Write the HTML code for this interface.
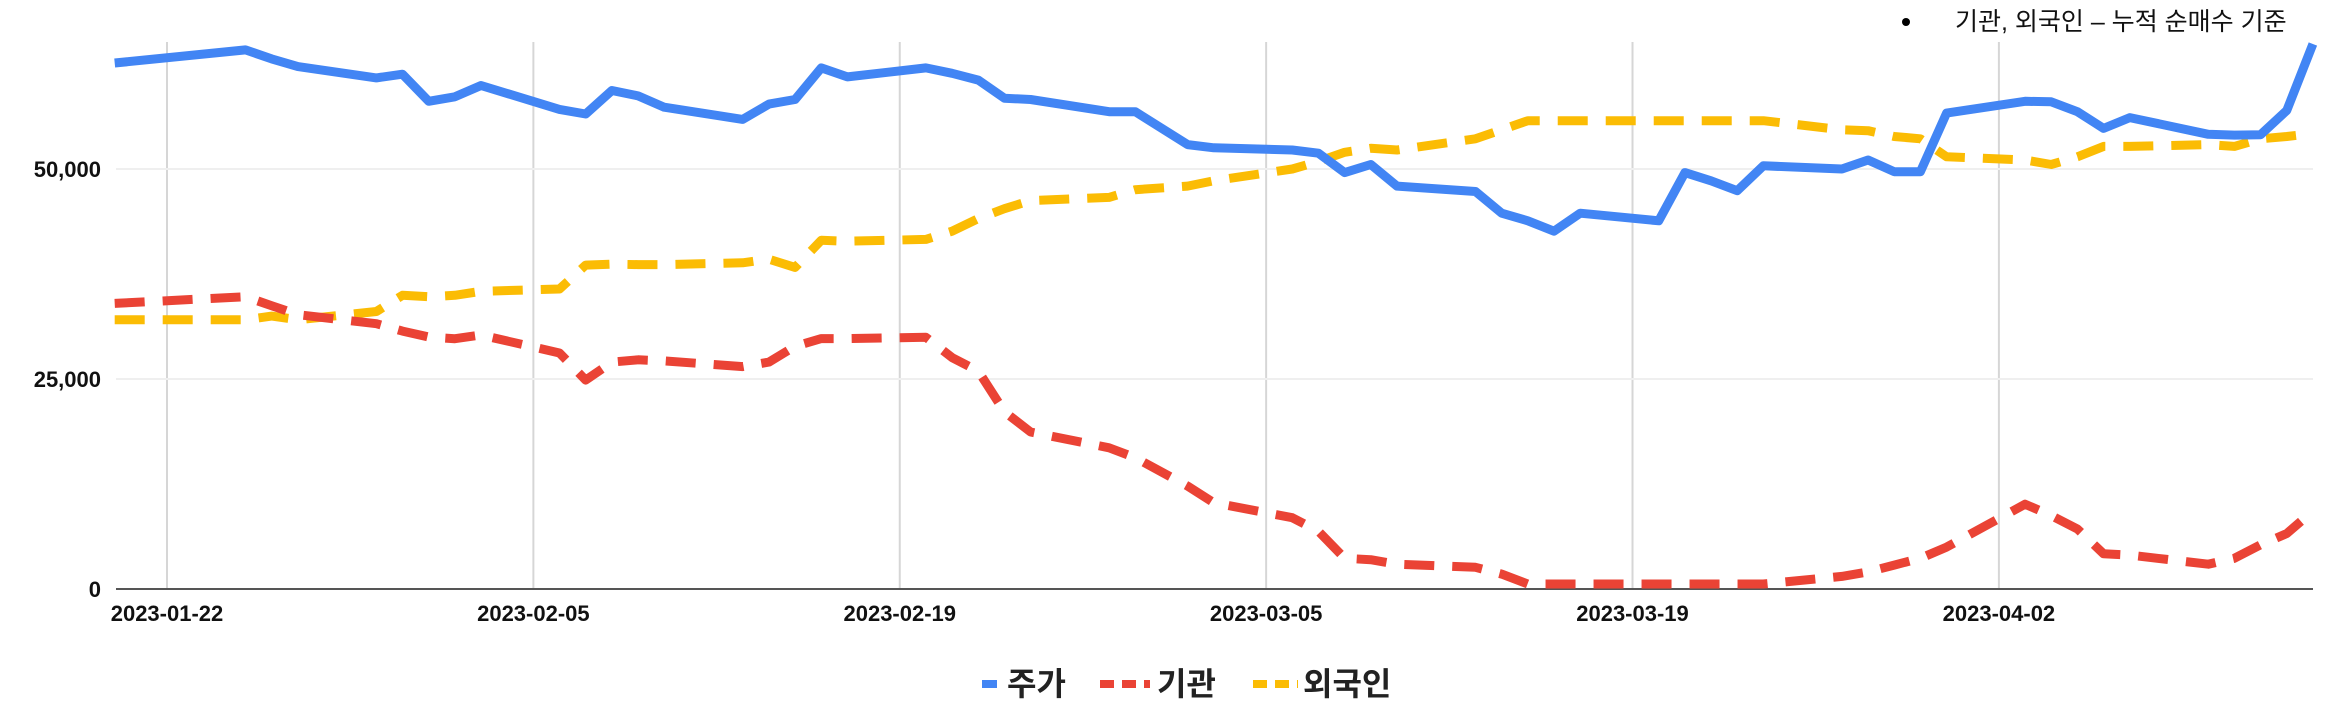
<!DOCTYPE html>
<html><head><meta charset="utf-8"><style>
html,body{margin:0;padding:0;background:#fff;}
svg{display:block;font-family:"Liberation Sans","Noto Sans CJK KR",sans-serif;}
</style></head><body>
<svg id="chart" width="2339" height="710" viewBox="0 0 2339 710" xmlns="http://www.w3.org/2000/svg">
<g id="grid"></g>
<g id="axes"></g>
<g id="series"></g>
<g>
<circle cx="1906" cy="22" r="4" fill="#000"/>
<text x="1955" y="30" font-size="25" fill="#111">기관, 외국인 – 누적 순매수 기준</text>
</g>
<g>
<g>
<line x1="982" y1="684" x2="997" y2="684" stroke="#4285f4" stroke-width="8"/>
<text x="1007" y="695" font-size="32" font-weight="bold" fill="#222">주가</text></g>
<g>
<line x1="1100" y1="684" x2="1150" y2="684" stroke="#ea4335" stroke-width="8" stroke-dasharray="14,8"/>
<text x="1157" y="695" font-size="32" font-weight="bold" fill="#222">기관</text></g>
<g>
<line x1="1253" y1="684" x2="1298" y2="684" stroke="#fbbc04" stroke-width="8" stroke-dasharray="14,8"/>
<text x="1303" y="695" font-size="32" font-weight="bold" fill="#222">외국인</text></g>
</g>
</svg>
<script>
const dates=["2023-01-20","2023-01-25","2023-01-26","2023-01-27","2023-01-30","2023-01-31","2023-02-01","2023-02-02","2023-02-03","2023-02-06","2023-02-07","2023-02-08","2023-02-09","2023-02-10","2023-02-13","2023-02-14","2023-02-15","2023-02-16","2023-02-17","2023-02-20","2023-02-21","2023-02-22","2023-02-23","2023-02-24","2023-02-27","2023-02-28","2023-03-02","2023-03-03","2023-03-06","2023-03-07","2023-03-08","2023-03-09","2023-03-10","2023-03-13","2023-03-14","2023-03-15","2023-03-16","2023-03-17","2023-03-20","2023-03-21","2023-03-22","2023-03-23","2023-03-24","2023-03-27","2023-03-28","2023-03-29","2023-03-30","2023-03-31","2023-04-03","2023-04-04","2023-04-05","2023-04-06","2023-04-07","2023-04-10","2023-04-11","2023-04-12","2023-04-13","2023-04-14"];
const price=[62620,64180,63110,62190,60850,61280,58060,58590,59940,57090,56550,59350,58700,57360,55910,57730,58270,62030,60960,62030,61390,60580,58430,58270,56820,56820,52900,52520,52260,51880,49570,50540,47960,47320,44740,43830,42590,44740,43830,49570,48600,47420,50380,50000,51070,49680,49680,56660,58060,58000,56820,54830,56120,54130,54030,54080,56980,64880];
const institution=[34000,34800,33730,32650,31580,30700,30000,29800,30240,28090,24870,27010,27280,27150,26480,27010,28900,29810,29810,29970,27550,25940,21110,18690,16810,15630,12250,10260,8490,6870,3650,3490,2950,2580,1770,590,590,590,590,590,590,590,590,1500,2040,2850,3650,4990,10100,8750,7140,4190,4030,2950,3650,5260,6610,9290];
const foreign=[32060,32060,32490,32060,33030,34960,34800,34960,35440,35710,38560,38670,38620,38620,38830,39260,38290,41510,41400,41620,42590,44090,45270,46240,46620,47530,47960,48600,50000,50910,51990,52470,52260,53600,54670,55750,55750,55750,55750,55750,55750,55750,55750,54670,54560,53870,53600,51450,51070,50540,51450,52690,52690,52900,52690,53600,53870,54240];
const yTicks=[0,25000,50000];
const yTickLabels=["0","25,000","50,000"];
const xTicks=["2023-01-22","2023-02-05","2023-02-19","2023-03-05","2023-03-19","2023-04-02"];

const NS="http://www.w3.org/2000/svg";
const base=Date.UTC(2023,0,22);
function dayOf(s){const p=s.split("-");return (Date.UTC(+p[0],+p[1]-1,+p[2])-base)/86400000;}
function xS(s){return 167+dayOf(s)*26.17;}
function yS(v){return 589-v*0.0084;}
function mk(tag,attrs,parent){const e=document.createElementNS(NS,tag);for(const k in attrs)e.setAttribute(k,attrs[k]);parent.appendChild(e);return e;}
const grid=document.getElementById("grid"),axes=document.getElementById("axes"),series=document.getElementById("series");
const L=116,R=2313;
xTicks.forEach(d=>{
 const x=xS(d);
 const g=mk("line",{x1:x,x2:x,y1:42,y2:589,stroke:"#d6d6d6","stroke-width":2},grid);
 
 
 const t=mk("text",{x:x,y:621,"text-anchor":"middle","font-size":22,"font-weight":"bold",fill:"#111"},axes);
 t.textContent=d;
 
 
});
yTicks.forEach((v,i)=>{
 const y=yS(v);
 if(v>0){const g=mk("line",{x1:L,x2:R,y1:y,y2:y,stroke:"#efefef","stroke-width":2},grid);
 
 }
 const t=mk("text",{x:101,y:y+8,"text-anchor":"end","font-size":22,"font-weight":"bold",fill:"#111"},axes);
 t.textContent=yTickLabels[i];
 
 
});
const bl=mk("line",{x1:L,x2:R,y1:589,y2:589,stroke:"#555","stroke-width":2},axes);


function drawLine(vals,color,dash,name){
 const pts=vals.map((v,i)=>xS(dates[i]).toFixed(1)+","+yS(v).toFixed(1)).join(" ");
 const a={points:pts,fill:"none",stroke:color,"stroke-width":9,"stroke-linejoin":"round"};
 if(dash)a["stroke-dasharray"]=dash;
 const p=mk("polyline",a,series);
 
 
}
drawLine(foreign,"#fbbc04","30,18","foreign-line");
drawLine(institution,"#ea4335","30,18","institution-line");
drawLine(price,"#4285f4",null,"price-line");
</script>
</body></html>
